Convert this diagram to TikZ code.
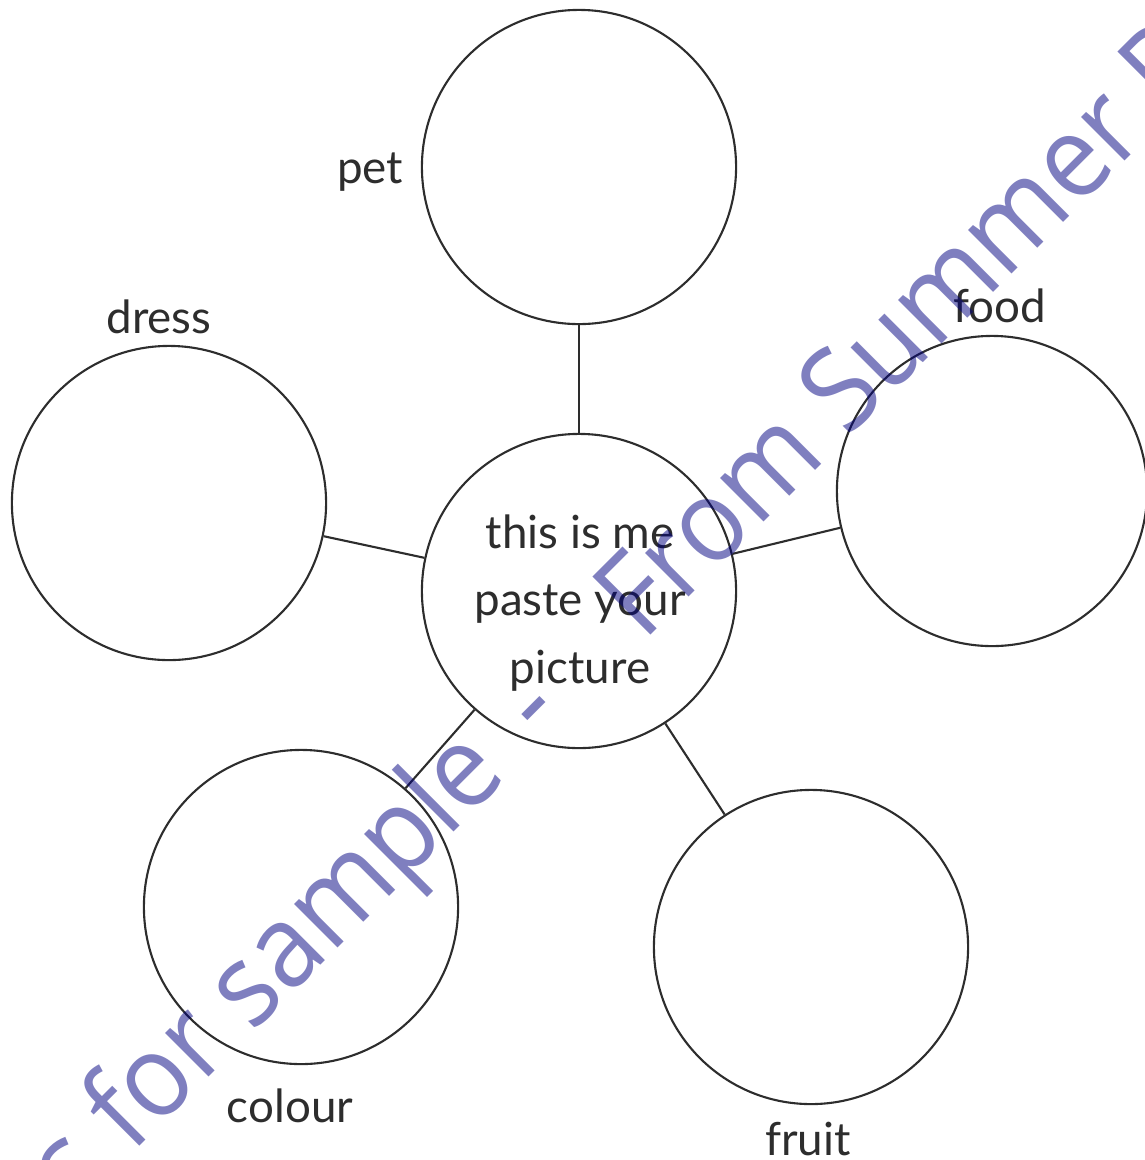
\documentclass[tikz,border=0pt]{standalone}
\usepackage{fontspec}
\setmainfont{Lato}
\newfontfamily\markfont[FakeStretch=0.93]{Open Sans}
\definecolor{ink}{RGB}{45,45,45}
\definecolor{markblue}{RGB}{0,0,128}
\begin{document}
\begin{tikzpicture}[x=0.01cm,y=-0.01cm,
  bubble/.style={draw=ink,line width=0.6pt,circle,minimum size=3.14cm,inner sep=0pt},
  word/.style={text=ink,font=\fontsize{13}{19.3}\selectfont,anchor=base},
  stalk/.style={draw=ink,line width=0.6pt},
  stamp/.style={rotate=45,text=markblue,text opacity=0.5,inner sep=0pt,
    font=\markfont\fontsize{32.7}{38}\selectfont}]
\useasboundingbox (0,0) rectangle (1145,1160);
% the five bubbles round the middle one
\node[bubble] (me) at (579,591) {};
\node[bubble] (pet) at (579,167) {};
\node[bubble] (dress) at (169,503) {};
\node[bubble,minimum size=3.1cm] (food) at (992,491) {};
\node[bubble] (colour) at (301,907) {};
\node[bubble] (fruit) at (811,947) {};
\draw[stalk] (me) -- (pet);
\draw[stalk] (me) -- (dress);
\draw[stalk] (me) -- (food);
\draw[stalk] (me) -- (colour);
\draw[stalk] (me) -- (fruit);
\node[word,anchor=center,align=center] (metext) at (580,603) {this is me\\paste your\\picture};
\node[word] (petlabel) at (370,183) {pet};
\node[word] (dresslabel) at (159,333) {dress};
\node[word] (foodlabel) at (1000,322) {food};
\node[word] (colourlabel) at (290,1122) {colour};
\node[word] (fruitlabel) at (808,1155) {fruit};
% watermark
\begin{scope}
\clip (0,0) rectangle (1145,1160);
\node[stamp,anchor=base east] (markleft) at (568,718) {s for sample\hspace{0.2cm} -};
\node[stamp,anchor=base west] (markright) at (643,643) {From Summer P};
\end{scope}
\end{tikzpicture}
\end{document}
